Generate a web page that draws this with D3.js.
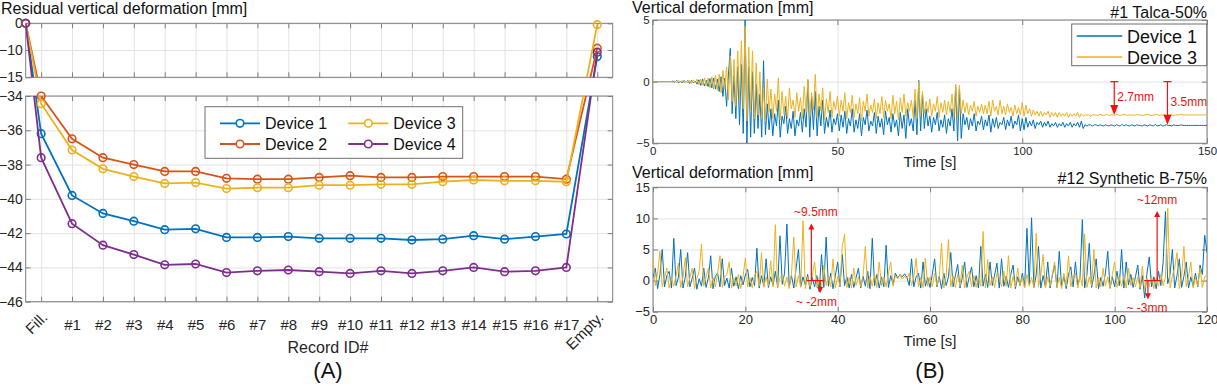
<html>
<head>
<meta charset='utf-8' />
<title>Residual and vertical deformation</title>
<script src="https://cdn.jsdelivr.net/npm/d3@7"></script>
<style>
body { margin: 0; background: #fff; }
svg text { font-family: "Liberation Sans", Arial, Helvetica, sans-serif; }
</style>
</head>
<body>
<script>

// ---------- (A) residual deformation per record ----------
var records = ["Fill.","#1","#2","#3","#4","#5","#6","#7","#8","#9","#10","#11","#12","#13","#14","#15","#16","#17","Empty."];
var startValue = 0;   // state before filling, all devices
var dev1 = [-36.2,-39.8,-40.85,-41.3,-41.8,-41.75,-42.25,-42.25,-42.2,-42.3,-42.3,-42.3,-42.4,-42.35,-42.15,-42.35,-42.2,-42.05,-11.2];
var dev2 = [-34.0,-36.5,-37.6,-38.0,-38.4,-38.4,-38.8,-38.85,-38.85,-38.75,-38.65,-38.75,-38.75,-38.7,-38.7,-38.7,-38.7,-38.85,-9.3];
var dev3 = [-34.45,-37.15,-38.25,-38.7,-39.1,-39.05,-39.4,-39.35,-39.35,-39.2,-39.2,-39.15,-39.15,-39.0,-38.9,-38.95,-38.95,-39.0,-0.5];
var dev4 = [-37.6,-41.45,-42.7,-43.25,-43.85,-43.8,-44.3,-44.2,-44.15,-44.25,-44.35,-44.2,-44.35,-44.2,-44.0,-44.25,-44.2,-44.0,-10.4];
var topTicks = [-15,-10,0];
var botTicks = [-46,-44,-42,-40,-38,-36,-34];

// ---------- (B) time histories, one sample every 0.5 s ----------
var talcaStep = 0.5;
var talcaDev1 = [
0,0,0,0,0,0,0,0,0,0,
0,0.05,-0.05,0.1,-0.1,0.05,-0.1,0.1,-0.05,0.1,
-0.15,0.1,-0.1,0.05,-0.2,0.15,-0.3,0.2,-0.35,0.1,
-0.4,0.25,-0.5,0.3,-0.6,0.2,-0.8,0.4,-1.2,0.3,
-2.0,0.6,2.7,-2.6,0.5,-3.0,1.2,-3.5,1.4,-4.2,
5.0,-5.0,1.2,-4.5,0.8,-4.2,-0.2,-3.8,-1.0,-4.5,
1.7,-4.3,-1.8,-3.9,-2.2,-4.4,-2.6,-3.6,-1.5,-4.5,
-2.8,-3.4,-2.0,-4.2,-3.0,-3.8,-2.4,-4.4,-3.1,-3.6,
-2.5,-4.1,-2.2,-3.7,0.1,-4.5,-1.2,-3.9,-0.8,-4.4,
-2.0,-3.6,-1.5,-4.2,-2.9,-3.7,-2.3,-4.1,-3.0,-3.5,
-2.6,-4.0,-2.7,-3.7,-2.4,-4.2,-3.0,-3.6,-2.2,-4.1,
-3.1,-3.8,-2.6,-4.4,-2.9,-3.5,-2.3,-4.0,-3.2,-3.6,
-2.5,-4.2,-2.8,-3.7,-3.0,-4.3,-2.4,-3.5,-2.9,-4.1,
-2.6,-3.7,-3.1,-4.4,-2.5,-3.8,-2.7,-4.6,-2.2,-3.6,
-3.0,-4.0,-1.5,-4.3,0.1,-4.0,-1.0,-3.8,-2.2,-3.6,
-2.8,-4.1,-2.9,-3.5,-2.5,-4.0,-3.1,-3.7,-2.7,-4.2,
-3.0,-3.6,-2.2,-4.0,-0.4,-4.8,-0.6,-4.6,-2.6,-3.5,
-2.9,-3.9,-3.0,-3.6,-2.6,-4.0,-3.2,-3.5,-2.8,-3.9,
-3.1,-3.6,-2.7,-4.1,-3.0,-3.7,-2.9,-3.8,-3.3,-3.5,
-2.9,-3.9,-3.1,-3.6,-2.8,-3.8,-3.2,-3.5,-2.7,-4.0,
-3.0,-3.9,-2.9,-3.7,-3.2,-3.6,-3.1,-3.8,-3.3,-3.5,
-3.2,-3.7,-3.3,-3.6,-3.2,-3.7,-3.4,-3.6,-3.3,-3.7,
-3.4,-3.6,-3.3,-3.7,-3.4,-3.6,-3.3,-3.7,-3.4,-3.6,
-3.3,-3.7,-3.2,-3.8,-3.5,-3.6,-3.5,-3.5,-3.6,-3.5,
-3.5,-3.6,-3.5,-3.55,-3.6,-3.5,-3.55,-3.6,-3.5,-3.55,
-3.6,-3.5,-3.55,-3.6,-3.45,-3.6,-3.5,-3.55,-3.6,-3.5,
-3.55,-3.6,-3.5,-3.55,-3.55,-3.6,-3.5,-3.55,-3.6,-3.5,
-3.55,-3.6,-3.45,-3.6,-3.55,-3.5,-3.6,-3.55,-3.5,-3.55,
-3.55,-3.6,-3.5,-3.55,-3.55,-3.55,-3.5,-3.55,-3.55,-3.55,
-3.55,-3.55,-3.55,-3.55,-3.55,-3.55,-3.55,-3.55,-3.55,-3.55,
-3.55];
var talcaDev3 = [
0,0,0,0,0,0,0,0,0,0,
0,-0.05,0.05,-0.1,0.1,-0.05,0.1,-0.1,0.05,-0.1,
0.1,-0.15,0.15,-0.1,0.2,-0.25,0.2,-0.3,0.3,-0.35,
0.3,-0.5,0.4,-0.6,0.5,-0.7,0.6,-0.9,0.9,-0.6,
1.2,-1.5,2.1,-1.6,1.8,-2.0,2.5,-1.5,3.3,-2.2,
4.5,-3.2,2.8,-2.5,2.5,-3.0,1.5,-2.7,0.8,-3.0,
-0.5,-3.2,0.2,-2.5,-0.6,-3.0,-1.0,-2.4,0.3,-3.1,
-0.8,-2.6,-1.2,-3.0,-0.5,-2.2,-1.5,-2.9,-0.9,-2.4,
-1.3,-3.0,-0.4,-2.5,0.2,-2.8,-0.9,-2.3,0.6,-2.9,
-1.0,-2.4,-0.5,-3.1,-1.4,-2.5,-0.8,-2.9,-1.6,-2.3,
-1.2,-2.8,-1.5,-2.4,-0.9,-3.0,-1.7,-2.5,-1.1,-2.9,
-1.8,-2.6,-1.3,-3.2,-1.6,-2.4,-1.0,-2.8,-1.9,-2.5,
-1.4,-3.0,-1.7,-2.6,-1.2,-2.9,-1.5,-2.4,-1.8,-3.0,
-1.1,-2.6,-1.6,-3.1,-1.3,-2.5,-1.0,-2.8,-1.7,-2.4,
-1.5,-2.9,-0.6,-3.0,0.0,-2.8,-0.8,-2.6,-1.6,-2.5,
-1.4,-2.8,-1.8,-2.4,-1.2,-2.9,-1.7,-2.5,-1.5,-2.7,
-1.6,-2.5,-1.0,-2.9,-0.2,-3.0,-0.3,-2.6,-1.5,-2.5,
-1.7,-2.7,-1.9,-2.4,-1.6,-2.8,-2.0,-2.5,-1.8,-2.6,
-1.9,-2.6,-1.6,-2.8,-1.5,-2.4,-2.0,-2.7,-1.5,-2.6,
-2.0,-2.7,-1.8,-2.5,-2.1,-2.8,-1.9,-2.6,-2.1,-2.7,
-1.7,-2.8,-1.9,-2.6,-2.2,-2.8,-2.3,-2.7,-2.4,-2.8,
-2.4,-2.8,-2.5,-2.7,-2.4,-2.9,-2.5,-2.8,-2.5,-2.9,
-2.5,-2.8,-2.6,-2.8,-2.5,-2.9,-2.6,-2.8,-2.6,-2.8,
-2.5,-2.9,-2.6,-2.8,-2.7,-2.7,-2.7,-2.8,-2.7,-2.7,
-2.7,-2.75,-2.65,-2.7,-2.75,-2.7,-2.65,-2.75,-2.7,-2.7,
-2.75,-2.65,-2.7,-2.75,-2.7,-2.65,-2.7,-2.75,-2.7,-2.7,
-2.7,-2.75,-2.65,-2.7,-2.7,-2.75,-2.7,-2.7,-2.65,-2.7,
-2.75,-2.7,-2.7,-2.65,-2.75,-2.7,-2.7,-2.7,-2.75,-2.7,
-2.7,-2.7,-2.75,-2.7,-2.7,-2.7,-2.65,-2.7,-2.7,-2.7,
-2.7,-2.7,-2.7,-2.7,-2.7,-2.7,-2.7,-2.7,-2.7,-2.7,
-2.7];

var synthStep = 0.5;
var synthDev1 = [
0.5,2.0,-1.3,1.0,5.0,-1.0,0.8,1.5,-1.2,6.8,
-0.8,0.5,5.0,-1.2,0.6,4.5,-1.0,0.4,2.0,-1.4,
0.3,-0.9,2.0,-1.1,0.5,4.0,-1.3,0.7,1.2,-1.0,
3.5,-0.8,0.4,-1.2,2.0,-0.9,0.6,-1.3,0.8,-0.7,
0.9,1.8,-1.0,0.5,-0.8,5.2,-1.2,0.8,-0.9,3.5,
-1.1,0.6,-0.8,1.5,-1.0,7.2,-0.6,1.2,9.1,-1.0,
0.8,-1.2,2.0,5.0,-1.0,0.6,-0.7,1.0,-1.4,0.5,
-1.0,0.8,-1.8,4.2,-1.1,7.0,-0.9,1.2,-1.3,0.8,
3.0,-1.0,4.2,-0.8,0.6,-1.2,1.0,-1.1,0.5,2.0,
-1.2,0.7,-0.9,1.5,-1.3,6.8,-0.8,1.0,-1.2,0.6,
-1.0,5.7,-1.1,0.8,-0.6,1.2,0.4,1.0,0.6,1.1,
0.5,-0.8,3.5,-1.0,0.6,1.2,-1.2,3.0,-0.9,0.5,
-1.1,1.0,3.5,-1.0,0.7,-1.3,1.2,-0.8,0.6,4.5,
-1.0,0.8,2.6,-1.2,0.5,3.0,-1.1,0.6,2.2,-1.0,
0.8,-1.2,5.5,-0.9,1.0,-1.1,3.0,-0.8,0.9,2.8,
-1.2,3.5,-0.9,0.7,-1.1,1.0,2.5,-1.3,0.6,-0.8,
1.2,-1.0,8.4,-0.6,10.1,-1.1,0.9,5.5,-1.2,0.8,
-1.0,3.0,-1.2,0.8,2.5,-1.1,4.7,-0.9,0.7,-1.3,
1.0,2.2,-1.0,3.0,-0.8,0.6,9.8,-1.2,1.0,6.0,
-1.1,0.8,3.5,-1.3,0.5,-0.9,1.2,4.7,-1.2,0.6,
-1.0,1.5,-0.8,5.0,-1.2,3.0,-0.7,1.0,-1.1,0.6,
2.5,-1.4,0.8,-2.8,1.2,3.8,-1.0,0.6,-1.3,1.5,
-0.8,3.0,11.1,-0.5,1.0,5.0,-1.2,0.8,3.5,-1.1,
0.7,3.0,-1.2,0.6,-0.9,1.2,-1.0,2.5,1.0,7.3,
4.5];
var synthDev3 = [
3.6,-0.8,1.2,4.7,-1.0,0.5,2.0,-1.2,0.4,-0.9,
0.8,2.8,-1.1,0.6,3.7,-1.0,0.5,2.0,-1.3,0.4,
1.5,5.9,-0.9,0.6,2.0,-1.2,0.5,-1.0,1.2,4.0,
-1.1,0.5,1.0,3.0,-1.2,0.4,-0.8,1.0,-1.3,0.6,
3.6,-1.0,0.5,-1.2,0.8,1.5,-0.9,4.5,-1.1,0.6,
-0.8,3.2,-1.0,9.0,-1.2,0.5,1.0,-0.9,0.6,-1.3,
1.2,7.0,-1.0,0.8,-1.1,9.6,-1.3,0.6,-1.0,0.8,
3.0,-1.1,0.5,-1.2,2.5,-0.8,0.6,-1.0,3.5,-1.2,
0.7,-0.9,5.5,7.5,-1.1,0.5,-1.2,2.0,-0.8,0.6,
-1.0,0.8,5.5,-1.2,0.7,-0.9,1.0,-1.1,3.0,-0.8,
0.6,-1.0,1.2,3.0,-0.9,0.8,0.3,1.0,0.2,0.7,
0.3,1.2,-0.8,0.6,3.6,-1.0,0.5,-1.1,3.6,-0.9,
0.6,-1.0,1.2,-0.8,0.5,6.0,-1.2,0.7,6.6,-1.0,
0.8,-1.1,1.0,-0.9,2.5,-1.2,0.6,1.5,-1.0,0.8,
-1.1,0.6,-0.9,7.9,-1.2,3.4,-0.8,0.6,-1.1,1.2,
0.4,-1.0,1.5,-0.9,4.0,-1.2,0.7,-1.0,2.0,-0.8,
0.6,-1.2,1.0,-0.9,0.5,-1.1,7.6,-1.0,0.8,4.2,
-1.2,0.6,-0.9,1.0,3.0,-1.1,0.5,-1.3,1.2,-0.9,
4.0,-1.0,0.6,1.2,-1.2,0.8,-0.9,7.5,-1.1,0.6,
-0.8,5.0,-1.2,0.5,-1.0,2.0,-0.9,0.6,-1.3,1.0,
3.0,-1.1,0.5,-0.9,0.8,-1.2,2.0,-0.8,0.5,-1.0,
0.6,-1.2,2.3,-1.5,0.4,-1.0,0.8,-1.3,0.5,-0.9,
1.0,-0.8,0.6,11.6,-1.2,0.8,2.0,4.5,-1.3,0.6,
5.5,-1.0,0.7,3.0,-1.2,0.5,-0.9,2.0,-1.1,0.6,
1.0];

var talcaXTicks = [0,50,100,150], talcaYTicks = [-5,0,5];
var synthXTicks = [0,20,40,60,80,100,120], synthYTicks = [-5,0,5,10,15];

// annotations: [time, value reached, label]
var talcaArrows = [[124.9, -2.7, "2.7mm"], [139.3, -3.5, "3.5mm"]];
// [cap start, cap end, up arrow time, up value, up label, label time, down arrow time, down value, down label, label time]
var synthMarks = [
	[33.3, 37.1, 34.3, 9.2, "~9.5mm", 35.3, 36.2, -2, "~ -2mm", 35.4],
	[106.4, 110.0, 109.2, 11.2, "~12mm", 109.2, 107.2, -3, "~ -3mm", 107.0]
];

var colors = {d1: "#0072BD", d2: "#D95319", d3: "#EDB120", d4: "#7E2F8E"};
var gridCol = "#e3e3e3", axisCol = "#7f7f7f", textCol = "#262626", red = "#f01010";
var font = '"Liberation Sans", Arial, Helvetica, sans-serif';

var svg = d3.select("body").append("svg")
	.attr("width", 1217).attr("height", 387)
	.attr("xmlns", "http://www.w3.org/2000/svg");
var defs = svg.append("defs");

function clip(id, xs, ys) {
	var x0 = xs.range()[0], x1 = xs.range()[xs.range().length-1];
	var y0 = d3.min(ys.range()), y1 = d3.max(ys.range());
	defs.append("clipPath").attr("id", id).append("rect")
		.attr("x", x0).attr("y", y0).attr("width", x1-x0).attr("height", y1-y0);
}

function styleAxis(a, size) {
	a.attr("font-family", font).attr("font-size", size).attr("color", textCol);
	a.select(".domain").remove();
	a.selectAll("line").attr("stroke", axisCol);
}

// grid + box + inward ticks on all four sides, labels left and bottom
function frame(xs, ys, xTicks, yTicks, xFormat, fs, xPad, yPad) {
	var x0 = xs.range()[0], x1 = xs.range()[xs.range().length-1];
	var y0 = d3.min(ys.range()), y1 = d3.max(ys.range());
	var g = svg.append("g");
	g.append("g").attr("transform", `translate(0,${y1})`)
		.call(d3.axisBottom(xs).tickValues(xTicks).tickSize(-(y1-y0)).tickFormat(""))
		.call(a => { a.select(".domain").remove(); a.selectAll("line").attr("stroke", gridCol); });
	g.append("g").attr("transform", `translate(${x0},0)`)
		.call(d3.axisLeft(ys).tickValues(yTicks).tickSize(-(x1-x0)).tickFormat(""))
		.call(a => { a.select(".domain").remove(); a.selectAll("line").attr("stroke", gridCol); });
	g.append("rect").attr("x", x0).attr("y", y0).attr("width", x1-x0).attr("height", y1-y0)
		.attr("fill", "none").attr("stroke", axisCol).attr("stroke-width", 1);
	var bottom = g.append("g").attr("transform", `translate(0,${y1})`)
		.call(d3.axisBottom(xs).tickValues(xTicks).tickSizeInner(-5).tickSizeOuter(0).tickPadding(xPad).tickFormat(xFormat))
		.call(a => styleAxis(a, fs));
	g.append("g").attr("transform", `translate(0,${y0})`)
		.call(d3.axisTop(xs).tickValues(xTicks).tickSizeInner(-5).tickSizeOuter(0).tickFormat(""))
		.call(a => styleAxis(a, fs));
	g.append("g").attr("transform", `translate(${x0},0)`)
		.call(d3.axisLeft(ys).tickValues(yTicks).tickSizeInner(-5).tickSizeOuter(0).tickPadding(yPad))
		.call(a => styleAxis(a, fs));
	g.append("g").attr("transform", `translate(${x1},0)`)
		.call(d3.axisRight(ys).tickValues(yTicks).tickSizeInner(-5).tickSizeOuter(0).tickFormat(""))
		.call(a => styleAxis(a, fs));
	return bottom;
}

function label(x, y, txt, size, anchor, fill) {
	return svg.append("text").attr("x", x).attr("y", y)
		.attr("font-size", size).attr("text-anchor", anchor || "start")
		.attr("fill", fill || "#111").text(txt);
}

// ================= panel A =================
var xA = d3.scaleLinear().domain([0.5, records.length + 0.5]).range([25.7, 612.7]);
var yTop = d3.scaleLinear().domain([0, -10, -15]).range([23.3, 50, 77.3]);
var yBot = d3.scaleLinear().domain([-34, -46]).range([96, 301.7]);
var catTicks = d3.range(1, records.length + 1);

frame(xA, yTop, catTicks, topTicks, "", 14, 3, 3);
var xAx = frame(xA, yBot, catTicks, botTicks, d => (d == 1 || d == records.length) ? "" : records[d-1], 14, 17.5, 3);
xAx.selectAll(".tick text").attr("font-size", 15);
xAx.selectAll(".tick").filter(d => d == 1 || d == records.length).append("text")
	.attr("fill", textCol).attr("font-size", 15).attr("text-anchor", "end").attr("dy", "0.35em")
	.attr("transform", "translate(3,13) rotate(-45)")
	.text(d => records[d-1]);

clip("clipATop", xA, yTop);
clip("clipABot", xA, yBot);

function yA(v) { return v >= -15 ? yTop(v) : yBot(v); }
var lineA = d3.line().x(d => xA(d[0])).y(d => yA(d[1]));

var devices = [[dev1, colors.d1, "Device 1"], [dev2, colors.d2, "Device 2"], [dev3, colors.d3, "Device 3"], [dev4, colors.d4, "Device 4"]];
devices.forEach(function(dv) {
	var pts = [[xA.domain()[0], startValue]].concat(dv[0].map((v, i) => [i + 1, v]));
	["clipATop", "clipABot"].forEach(function(c) {
		svg.append("path").datum(pts)
			.attr("clip-path", `url(#${c})`)
			.attr("fill", "none").attr("stroke", dv[1]).attr("stroke-width", 1.8)
			.attr("d", lineA);
	});
	svg.append("g").selectAll("circle").data(pts).join("circle")
		.attr("cx", d => xA(d[0])).attr("cy", d => yA(d[1])).attr("r", 3.8)
		.attr("fill", "none").attr("stroke", dv[1]).attr("stroke-width", 1.6);
});

// legend A
var legA = svg.append("g");
legA.append("rect").attr("x", 205).attr("y", 106.7).attr("width", 257.7).attr("height", 51.6)
	.attr("fill", "#fff").attr("stroke", "#6e6e6e");
devices.forEach(function(dv, i) {
	var lx = i < 2 ? 220 : 348.3, ly = i % 2 == 0 ? 123.3 : 144;
	legA.append("line").attr("x1", lx).attr("x2", lx + 40).attr("y1", ly).attr("y2", ly)
		.attr("stroke", dv[1]).attr("stroke-width", 1.8);
	legA.append("circle").attr("cx", lx + 20).attr("cy", ly).attr("r", 3.8)
		.attr("fill", "#fff").attr("stroke", dv[1]).attr("stroke-width", 1.6);
	legA.append("text").attr("x", lx + 45).attr("y", ly + 5.7).attr("font-size", 16)
		.attr("fill", "#111").text(dv[2]);
});

label(1, 13.5, "Residual vertical deformation [mm]", 16);
label(328, 353, "Record ID#", 16, "middle", textCol);
label(328, 378, "(A)", 22, "middle", "#111");

// ================= panel B, top: #1 Talca-50% =================
var xB1 = d3.scaleLinear().domain([0, 150]).range([652.7, 1207]);
var yB1 = d3.scaleLinear().domain([-5, 5]).range([143.3, 20]);
frame(xB1, yB1, talcaXTicks, talcaYTicks, d => d, 11.5, 4, 3);
clip("clipB1", xB1, yB1);

var lineB1 = d3.line().x((d, i) => xB1(i * talcaStep)).y(d => yB1(d));
[[talcaDev1, colors.d1], [talcaDev3, colors.d3]].forEach(function(s) {
	svg.append("path").datum(s[0]).attr("clip-path", "url(#clipB1)")
		.attr("fill", "none").attr("stroke", s[1]).attr("stroke-width", 1).attr("d", lineB1);
});

talcaArrows.forEach(function(a) {
	var x = xB1(a[0]), ya = yB1(0), yb = yB1(a[1]);
	svg.append("line").attr("x1", x - 4).attr("x2", x + 4).attr("y1", ya).attr("y2", ya)
		.attr("stroke", red).attr("stroke-width", 1.2);
	svg.append("line").attr("x1", x).attr("x2", x).attr("y1", ya).attr("y2", yb - 9)
		.attr("stroke", red).attr("stroke-width", 1.2);
	svg.append("path").attr("d", `M${x-4},${yb-10}L${x+4},${yb-10}L${x},${yb}Z`).attr("fill", red);
	label(x + 3, (ya + yb) / 2 + 3, a[2], 12, "start", red);
});

var legB = svg.append("g");
legB.append("rect").attr("x", 1071.7).attr("y", 24).attr("width", 135).attr("height", 41.7)
	.attr("fill", "#fff").attr("stroke", "#6e6e6e");
[[colors.d1, "Device 1"], [colors.d3, "Device 3"]].forEach(function(s, i) {
	var ly = i == 0 ? 36 : 57;
	legB.append("line").attr("x1", 1076.7).attr("x2", 1122.3).attr("y1", ly).attr("y2", ly)
		.attr("stroke", s[0]).attr("stroke-width", 1.5);
	legB.append("text").attr("x", 1127).attr("y", ly + 6.5).attr("font-size", 18)
		.attr("fill", "#111").text(s[1]);
});

label(632, 13.2, "Vertical deformation [mm]", 16);
label(1207, 18.3, "#1 Talca-50%", 16, "end");
label(930, 166.5, "Time [s]", 15, "middle", textCol);

// ================= panel B, bottom: #12 Synthetic B-75% =================
var xB2 = d3.scaleLinear().domain([0, 120]).range([653, 1207]);
var yB2 = d3.scaleLinear().domain([-5, 15]).range([311.7, 187.3]);
frame(xB2, yB2, synthXTicks, synthYTicks, d => d, 13, 3.5, 3);
clip("clipB2", xB2, yB2);

var lineB2 = d3.line().x((d, i) => xB2(i * synthStep)).y(d => yB2(d));
[[synthDev1, colors.d1], [synthDev3, colors.d3]].forEach(function(s) {
	svg.append("path").datum(s[0]).attr("clip-path", "url(#clipB2)")
		.attr("fill", "none").attr("stroke", s[1]).attr("stroke-width", 1).attr("d", lineB2);
});

synthMarks.forEach(function(m) {
	var y0 = yB2(0);
	svg.append("line").attr("x1", xB2(m[0])).attr("x2", xB2(m[1])).attr("y1", y0).attr("y2", y0)
		.attr("stroke", red).attr("stroke-width", 1.2);
	var xu = xB2(m[2]), yu = yB2(m[3]);
	svg.append("line").attr("x1", xu).attr("x2", xu).attr("y1", y0).attr("y2", yu + 5)
		.attr("stroke", red).attr("stroke-width", 1.2);
	svg.append("path").attr("d", `M${xu-3},${yu+6}L${xu+3},${yu+6}L${xu},${yu}Z`).attr("fill", red);
	label(xB2(m[5]), yu - 7, m[4], 12, "middle", red);
	var xd = xB2(m[6]), yd = yB2(m[7]);
	svg.append("line").attr("x1", xd).attr("x2", xd).attr("y1", y0).attr("y2", yd - 5)
		.attr("stroke", red).attr("stroke-width", 1.2);
	svg.append("path").attr("d", `M${xd-3},${yd-6}L${xd+3},${yd-6}L${xd},${yd}Z`).attr("fill", red);
	label(xB2(m[9]), yd + 13, m[8], 12, "middle", red);
});

label(632, 177.8, "Vertical deformation [mm]", 16);
label(1207, 183.5, "#12 Synthetic B-75%", 16, "end");
label(930, 345.5, "Time [s]", 15, "middle", textCol);
label(930, 378, "(B)", 22, "middle", "#111");

</script>
</body>
</html>
